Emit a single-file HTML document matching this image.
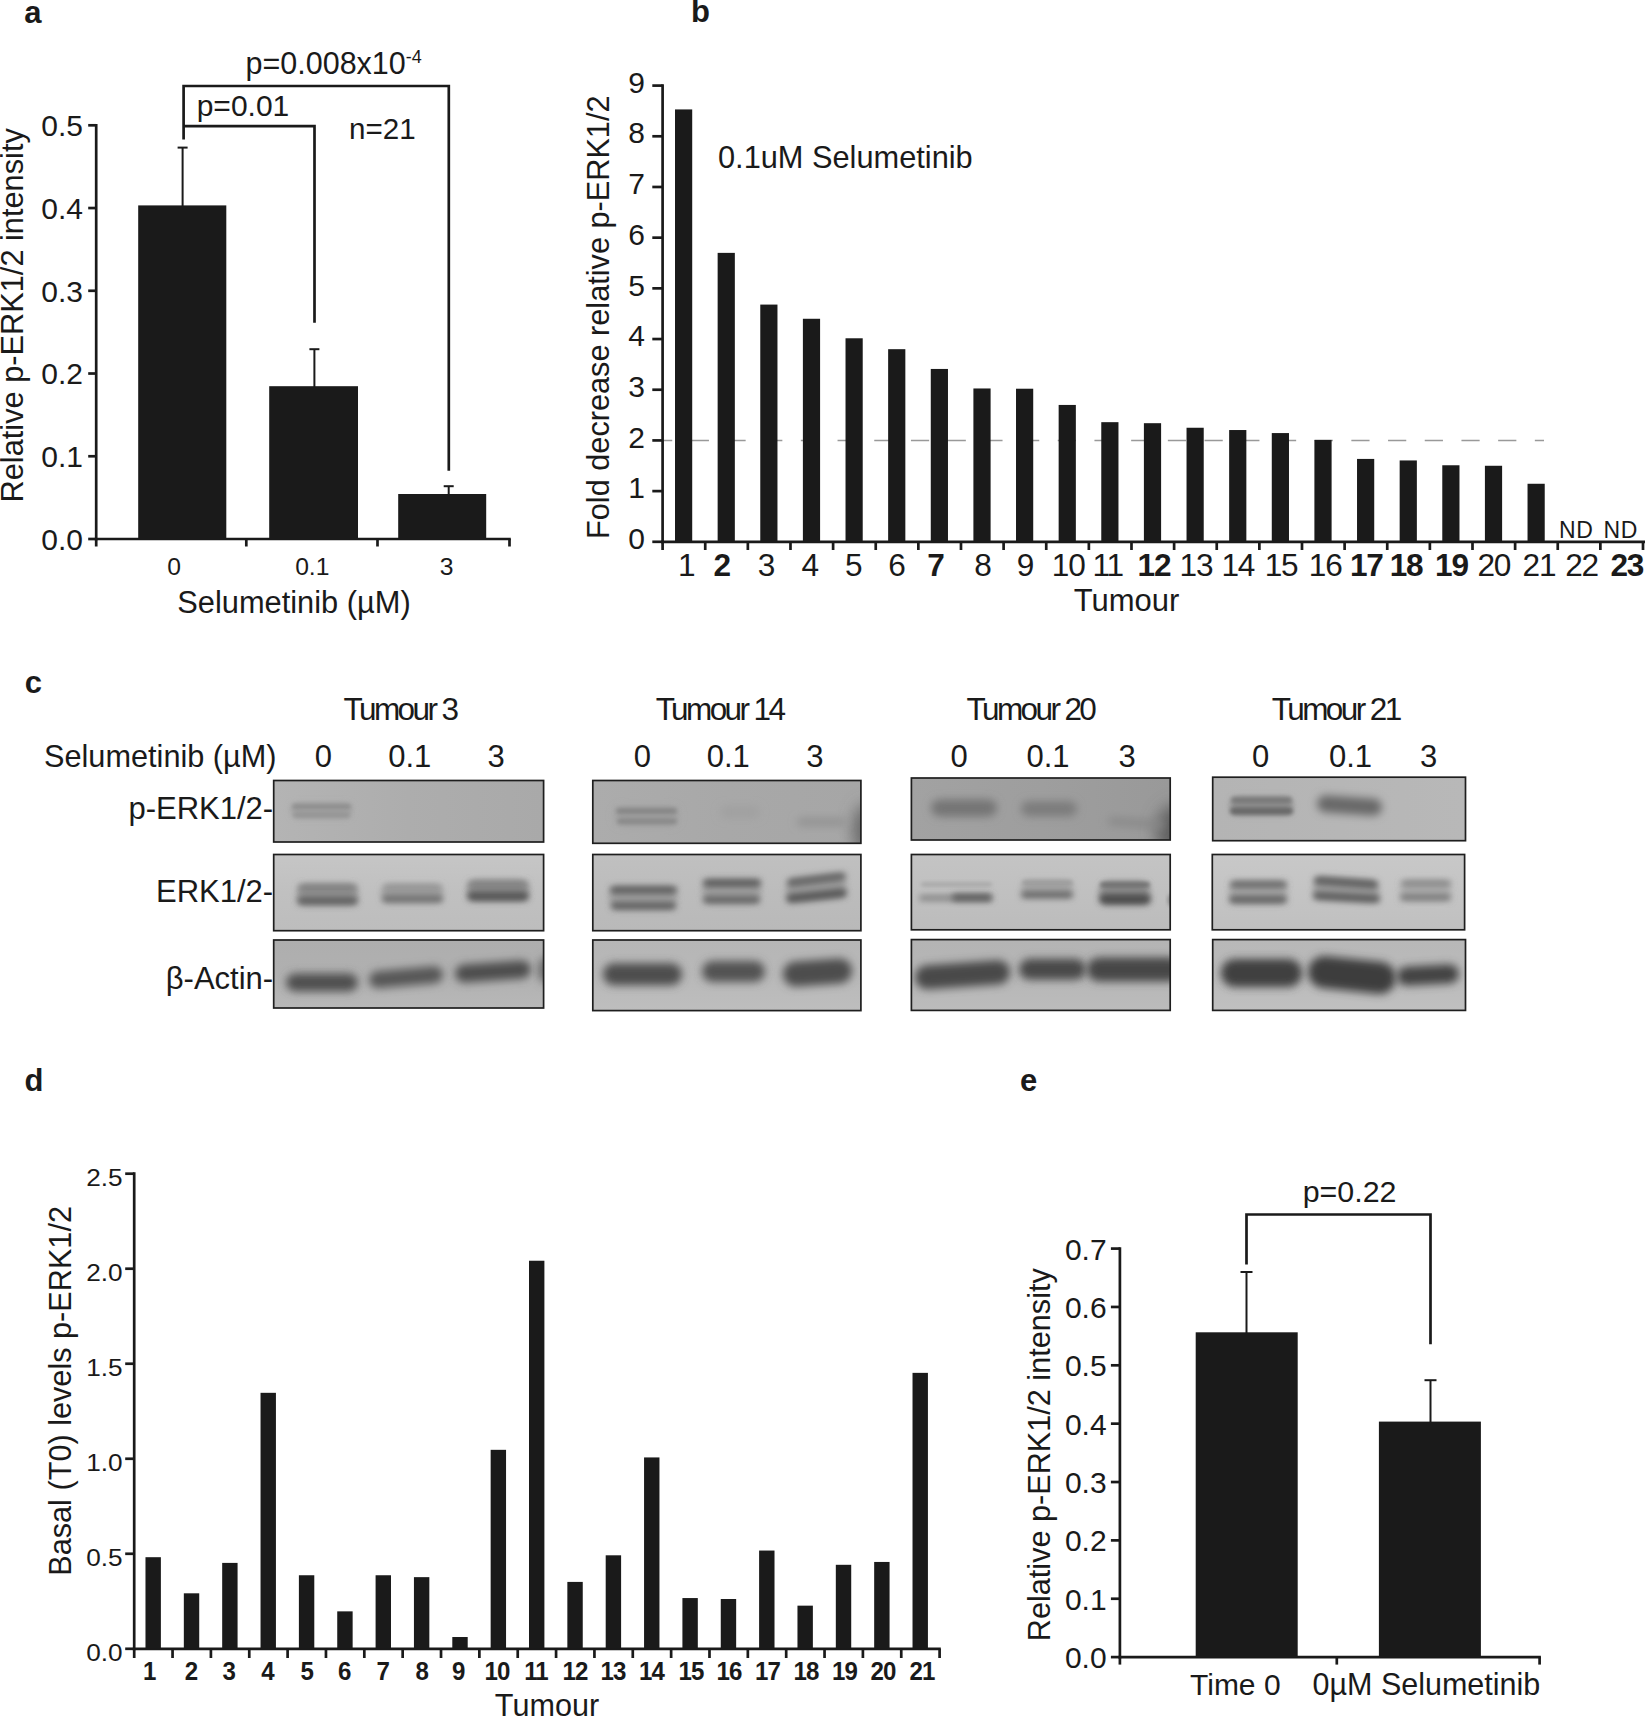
<!DOCTYPE html>
<html lang="en"><head><meta charset="utf-8"><title>Figure</title>
<style>html,body{margin:0;padding:0;background:#fff}body{width:1645px;height:1717px;overflow:hidden}svg{display:block}</style>
</head><body>
<svg width="1645" height="1717" viewBox="0 0 1645 1717" font-family="'Liberation Sans', Arial, Helvetica, sans-serif" fill="#1a1a1a">
<defs>
<filter id="b2" x="-30%" y="-100%" width="160%" height="300%"><feGaussianBlur stdDeviation="2"/></filter>
<filter id="b3" x="-30%" y="-100%" width="160%" height="300%"><feGaussianBlur stdDeviation="3"/></filter>
<filter id="b4" x="-30%" y="-100%" width="160%" height="300%"><feGaussianBlur stdDeviation="4"/></filter>
<filter id="b8" x="-50%" y="-50%" width="200%" height="200%"><feGaussianBlur stdDeviation="8"/></filter>
</defs>
<rect width="1645" height="1717" fill="#fff"/>
<text x="24.3" y="23.0" font-size="31" text-anchor="start" font-weight="bold">a</text>
<line x1="96.2" y1="123.95" x2="96.2" y2="540.35" stroke="#1a1a1a" stroke-width="2.7"/>
<line x1="94.85000000000001" y1="539" x2="510.8" y2="539" stroke="#1a1a1a" stroke-width="2.7"/>
<line x1="88.2" y1="539.0" x2="96.2" y2="539.0" stroke="#1a1a1a" stroke-width="2.7"/>
<text x="83" y="549.8" font-size="30" text-anchor="end">0.0</text>
<line x1="88.2" y1="456.26" x2="96.2" y2="456.26" stroke="#1a1a1a" stroke-width="2.7"/>
<text x="83" y="467.06" font-size="30" text-anchor="end">0.1</text>
<line x1="88.2" y1="373.52" x2="96.2" y2="373.52" stroke="#1a1a1a" stroke-width="2.7"/>
<text x="83" y="384.32" font-size="30" text-anchor="end">0.2</text>
<line x1="88.2" y1="290.78000000000003" x2="96.2" y2="290.78000000000003" stroke="#1a1a1a" stroke-width="2.7"/>
<text x="83" y="301.58000000000004" font-size="30" text-anchor="end">0.3</text>
<line x1="88.2" y1="208.04000000000002" x2="96.2" y2="208.04000000000002" stroke="#1a1a1a" stroke-width="2.7"/>
<text x="83" y="218.84000000000003" font-size="30" text-anchor="end">0.4</text>
<line x1="88.2" y1="125.30000000000001" x2="96.2" y2="125.30000000000001" stroke="#1a1a1a" stroke-width="2.7"/>
<text x="83" y="136.10000000000002" font-size="30" text-anchor="end">0.5</text>
<line x1="246.3" y1="539" x2="246.3" y2="546.5" stroke="#1a1a1a" stroke-width="2.7"/>
<line x1="377.5" y1="539" x2="377.5" y2="546.5" stroke="#1a1a1a" stroke-width="2.7"/>
<line x1="509.5" y1="539" x2="509.5" y2="546.5" stroke="#1a1a1a" stroke-width="2.7"/>
<line x1="96.2" y1="539" x2="96.2" y2="546.5" stroke="#1a1a1a" stroke-width="2.7"/>
<rect x="138.20" y="205.40" width="88.10" height="333.60" fill="#1a1a1a"/>
<rect x="269.20" y="386.20" width="88.80" height="152.80" fill="#1a1a1a"/>
<rect x="398.20" y="494.00" width="88.00" height="45.00" fill="#1a1a1a"/>
<line x1="182.6" y1="147.6" x2="182.6" y2="206" stroke="#1a1a1a" stroke-width="2"/>
<line x1="177.6" y1="147.6" x2="187.6" y2="147.6" stroke="#1a1a1a" stroke-width="2"/>
<line x1="314.4" y1="349.2" x2="314.4" y2="387" stroke="#1a1a1a" stroke-width="2"/>
<line x1="309.4" y1="349.2" x2="319.4" y2="349.2" stroke="#1a1a1a" stroke-width="2"/>
<line x1="448.7" y1="486.2" x2="448.7" y2="495" stroke="#1a1a1a" stroke-width="2"/>
<line x1="443.7" y1="486.2" x2="453.7" y2="486.2" stroke="#1a1a1a" stroke-width="2"/>
<path d="M183.6 139.5 L183.6 86 L448.8 86 L448.8 470.8" stroke="#1a1a1a" stroke-width="2.7" fill="none"/>
<path d="M183.6 126.2 L314.5 126.2 L314.5 322.8" stroke="#1a1a1a" stroke-width="2.7" fill="none"/>
<text x="245.5" y="74" font-size="30.5" text-anchor="start">p=0.008x10<tspan font-size="18" dy="-11">-4</tspan></text>
<text x="196.7" y="115.8" font-size="30" text-anchor="start">p=0.01</text>
<text x="349" y="139.3" font-size="29.6" text-anchor="start">n=21</text>
<text x="174.2" y="575" font-size="24.7" text-anchor="middle">0</text>
<text x="312.3" y="575" font-size="24.7" text-anchor="middle">0.1</text>
<text x="446.7" y="575" font-size="24.7" text-anchor="middle">3</text>
<text x="294" y="613" font-size="30.8" text-anchor="middle">Selumetinib (µM)</text>
<text x="23" y="315.3" font-size="30.75" text-anchor="middle" transform="rotate(-90 23 315.3)">Relative p-ERK1/2 intensity</text>
<text x="691" y="22.3" font-size="31" text-anchor="start" font-weight="bold">b</text>
<line x1="617.35" y1="440.4222222222222" x2="1544" y2="440.4222222222222" stroke="#999" stroke-width="1.5" stroke-dasharray="18.2 18.5"/>
<rect x="600.00" y="437.42" width="62.60" height="6.00" fill="#fff"/>
<rect x="675.01" y="109.42" width="17.20" height="432.38" fill="#1a1a1a"/>
<rect x="717.64" y="252.87" width="17.20" height="288.93" fill="#1a1a1a"/>
<rect x="760.27" y="304.58" width="17.20" height="237.22" fill="#1a1a1a"/>
<rect x="802.89" y="318.77" width="17.20" height="223.03" fill="#1a1a1a"/>
<rect x="845.52" y="338.28" width="17.20" height="203.52" fill="#1a1a1a"/>
<rect x="888.14" y="349.18" width="17.20" height="192.62" fill="#1a1a1a"/>
<rect x="930.77" y="368.95" width="17.20" height="172.85" fill="#1a1a1a"/>
<rect x="973.40" y="388.47" width="17.20" height="153.33" fill="#1a1a1a"/>
<rect x="1016.02" y="388.72" width="17.20" height="153.08" fill="#1a1a1a"/>
<rect x="1058.65" y="404.94" width="17.20" height="136.86" fill="#1a1a1a"/>
<rect x="1101.27" y="422.17" width="17.20" height="119.63" fill="#1a1a1a"/>
<rect x="1143.90" y="423.19" width="17.20" height="118.61" fill="#1a1a1a"/>
<rect x="1186.53" y="427.75" width="17.20" height="114.05" fill="#1a1a1a"/>
<rect x="1229.15" y="430.03" width="17.20" height="111.77" fill="#1a1a1a"/>
<rect x="1271.78" y="433.07" width="17.20" height="108.73" fill="#1a1a1a"/>
<rect x="1314.40" y="439.92" width="17.20" height="101.88" fill="#1a1a1a"/>
<rect x="1357.03" y="458.92" width="17.20" height="82.88" fill="#1a1a1a"/>
<rect x="1399.66" y="460.44" width="17.20" height="81.36" fill="#1a1a1a"/>
<rect x="1442.28" y="465.26" width="17.20" height="76.54" fill="#1a1a1a"/>
<rect x="1484.91" y="465.77" width="17.20" height="76.03" fill="#1a1a1a"/>
<rect x="1527.53" y="483.76" width="17.20" height="58.04" fill="#1a1a1a"/>
<line x1="662.6" y1="84.25" x2="662.6" y2="543.15" stroke="#1a1a1a" stroke-width="2.7"/>
<line x1="661.25" y1="541.8" x2="1645" y2="541.8" stroke="#1a1a1a" stroke-width="2.7"/>
<line x1="652.3000000000001" y1="541.8" x2="662.6" y2="541.8" stroke="#1a1a1a" stroke-width="2.7"/>
<text x="645" y="549.0" font-size="30" text-anchor="end">0</text>
<line x1="652.3000000000001" y1="491.1111111111111" x2="662.6" y2="491.1111111111111" stroke="#1a1a1a" stroke-width="2.7"/>
<text x="645" y="498.3111111111111" font-size="30" text-anchor="end">1</text>
<line x1="652.3000000000001" y1="440.4222222222222" x2="662.6" y2="440.4222222222222" stroke="#1a1a1a" stroke-width="2.7"/>
<text x="645" y="447.6222222222222" font-size="30" text-anchor="end">2</text>
<line x1="652.3000000000001" y1="389.7333333333333" x2="662.6" y2="389.7333333333333" stroke="#1a1a1a" stroke-width="2.7"/>
<text x="645" y="396.9333333333333" font-size="30" text-anchor="end">3</text>
<line x1="652.3000000000001" y1="339.0444444444444" x2="662.6" y2="339.0444444444444" stroke="#1a1a1a" stroke-width="2.7"/>
<text x="645" y="346.2444444444444" font-size="30" text-anchor="end">4</text>
<line x1="652.3000000000001" y1="288.35555555555555" x2="662.6" y2="288.35555555555555" stroke="#1a1a1a" stroke-width="2.7"/>
<text x="645" y="295.55555555555554" font-size="30" text-anchor="end">5</text>
<line x1="652.3000000000001" y1="237.66666666666663" x2="662.6" y2="237.66666666666663" stroke="#1a1a1a" stroke-width="2.7"/>
<text x="645" y="244.86666666666662" font-size="30" text-anchor="end">6</text>
<line x1="652.3000000000001" y1="186.97777777777776" x2="662.6" y2="186.97777777777776" stroke="#1a1a1a" stroke-width="2.7"/>
<text x="645" y="194.17777777777775" font-size="30" text-anchor="end">7</text>
<line x1="652.3000000000001" y1="136.2888888888889" x2="662.6" y2="136.2888888888889" stroke="#1a1a1a" stroke-width="2.7"/>
<text x="645" y="143.48888888888888" font-size="30" text-anchor="end">8</text>
<line x1="652.3000000000001" y1="85.60000000000002" x2="662.6" y2="85.60000000000002" stroke="#1a1a1a" stroke-width="2.7"/>
<text x="645" y="92.80000000000003" font-size="30" text-anchor="end">9</text>
<line x1="662.6" y1="541.8" x2="662.6" y2="550.0" stroke="#1a1a1a" stroke-width="2.7"/>
<line x1="705.2260869565217" y1="541.8" x2="705.2260869565217" y2="550.0" stroke="#1a1a1a" stroke-width="2.7"/>
<line x1="747.8521739130435" y1="541.8" x2="747.8521739130435" y2="550.0" stroke="#1a1a1a" stroke-width="2.7"/>
<line x1="790.4782608695652" y1="541.8" x2="790.4782608695652" y2="550.0" stroke="#1a1a1a" stroke-width="2.7"/>
<line x1="833.104347826087" y1="541.8" x2="833.104347826087" y2="550.0" stroke="#1a1a1a" stroke-width="2.7"/>
<line x1="875.7304347826087" y1="541.8" x2="875.7304347826087" y2="550.0" stroke="#1a1a1a" stroke-width="2.7"/>
<line x1="918.3565217391305" y1="541.8" x2="918.3565217391305" y2="550.0" stroke="#1a1a1a" stroke-width="2.7"/>
<line x1="960.9826086956522" y1="541.8" x2="960.9826086956522" y2="550.0" stroke="#1a1a1a" stroke-width="2.7"/>
<line x1="1003.608695652174" y1="541.8" x2="1003.608695652174" y2="550.0" stroke="#1a1a1a" stroke-width="2.7"/>
<line x1="1046.2347826086957" y1="541.8" x2="1046.2347826086957" y2="550.0" stroke="#1a1a1a" stroke-width="2.7"/>
<line x1="1088.8608695652174" y1="541.8" x2="1088.8608695652174" y2="550.0" stroke="#1a1a1a" stroke-width="2.7"/>
<line x1="1131.486956521739" y1="541.8" x2="1131.486956521739" y2="550.0" stroke="#1a1a1a" stroke-width="2.7"/>
<line x1="1174.1130434782608" y1="541.8" x2="1174.1130434782608" y2="550.0" stroke="#1a1a1a" stroke-width="2.7"/>
<line x1="1216.7391304347825" y1="541.8" x2="1216.7391304347825" y2="550.0" stroke="#1a1a1a" stroke-width="2.7"/>
<line x1="1259.3652173913042" y1="541.8" x2="1259.3652173913042" y2="550.0" stroke="#1a1a1a" stroke-width="2.7"/>
<line x1="1301.9913043478261" y1="541.8" x2="1301.9913043478261" y2="550.0" stroke="#1a1a1a" stroke-width="2.7"/>
<line x1="1344.6173913043478" y1="541.8" x2="1344.6173913043478" y2="550.0" stroke="#1a1a1a" stroke-width="2.7"/>
<line x1="1387.2434782608696" y1="541.8" x2="1387.2434782608696" y2="550.0" stroke="#1a1a1a" stroke-width="2.7"/>
<line x1="1429.8695652173915" y1="541.8" x2="1429.8695652173915" y2="550.0" stroke="#1a1a1a" stroke-width="2.7"/>
<line x1="1472.4956521739132" y1="541.8" x2="1472.4956521739132" y2="550.0" stroke="#1a1a1a" stroke-width="2.7"/>
<line x1="1515.121739130435" y1="541.8" x2="1515.121739130435" y2="550.0" stroke="#1a1a1a" stroke-width="2.7"/>
<line x1="1557.7478260869566" y1="541.8" x2="1557.7478260869566" y2="550.0" stroke="#1a1a1a" stroke-width="2.7"/>
<line x1="1600.3739130434783" y1="541.8" x2="1600.3739130434783" y2="550.0" stroke="#1a1a1a" stroke-width="2.7"/>
<line x1="1643.0" y1="541.8" x2="1643.0" y2="550.0" stroke="#1a1a1a" stroke-width="2.7"/>
<text x="686.9" y="575.6" font-size="31.6" text-anchor="middle">1</text>
<text x="722.4" y="575.6" font-size="31.6" text-anchor="middle" font-weight="bold">2</text>
<text x="766.6" y="575.6" font-size="31.6" text-anchor="middle">3</text>
<text x="810.4" y="575.6" font-size="31.6" text-anchor="middle">4</text>
<text x="853.8" y="575.6" font-size="31.6" text-anchor="middle">5</text>
<text x="897.1" y="575.6" font-size="31.6" text-anchor="middle">6</text>
<text x="936.0" y="575.6" font-size="31.6" text-anchor="middle" font-weight="bold">7</text>
<text x="983" y="575.6" font-size="31.6" text-anchor="middle">8</text>
<text x="1025.5" y="575.6" font-size="31.6" text-anchor="middle">9</text>
<text x="1068.2" y="575.6" font-size="31.6" text-anchor="middle" letter-spacing="-1.2">10</text>
<text x="1107.7" y="575.6" font-size="31.6" text-anchor="middle" letter-spacing="-1.2">11</text>
<text x="1153.9" y="575.6" font-size="31.6" text-anchor="middle" font-weight="bold" letter-spacing="-1.2">12</text>
<text x="1195.9" y="575.6" font-size="31.6" text-anchor="middle" letter-spacing="-1.2">13</text>
<text x="1237.8" y="575.6" font-size="31.6" text-anchor="middle" letter-spacing="-1.2">14</text>
<text x="1281.1" y="575.6" font-size="31.6" text-anchor="middle" letter-spacing="-1.2">15</text>
<text x="1325.2" y="575.6" font-size="31.6" text-anchor="middle" letter-spacing="-1.2">16</text>
<text x="1366.3" y="575.6" font-size="31.6" text-anchor="middle" font-weight="bold" letter-spacing="-1.2">17</text>
<text x="1406.1" y="575.6" font-size="31.6" text-anchor="middle" font-weight="bold" letter-spacing="-1.2">18</text>
<text x="1451.4" y="575.6" font-size="31.6" text-anchor="middle" font-weight="bold" letter-spacing="-1.2">19</text>
<text x="1493.8" y="575.6" font-size="31.6" text-anchor="middle" letter-spacing="-1.2">20</text>
<text x="1538.9" y="575.6" font-size="31.6" text-anchor="middle" letter-spacing="-1.2">21</text>
<text x="1581.5" y="575.6" font-size="31.6" text-anchor="middle" letter-spacing="-1.2">22</text>
<text x="1626.8" y="575.6" font-size="31.6" text-anchor="middle" font-weight="bold" letter-spacing="-1.2">23</text>
<text x="1576.3" y="538" font-size="23" text-anchor="middle" letter-spacing="0.6">ND</text>
<text x="1620.8" y="538" font-size="23" text-anchor="middle" letter-spacing="0.6">ND</text>
<text x="718" y="168" font-size="30.75" text-anchor="start">0.1uM Selumetinib</text>
<text x="1126.5" y="611.2" font-size="31" text-anchor="middle">Tumour</text>
<text x="609.2" y="317.2" font-size="30.7" text-anchor="middle" transform="rotate(-90 609.2 317.2)">Fold decrease relative p-ERK1/2</text>
<text x="24.7" y="693" font-size="31" text-anchor="start" font-weight="bold">c</text>
<text x="44" y="767" font-size="30.7" text-anchor="start">Selumetinib (µM)</text>
<text x="273.2" y="819.3" font-size="31" text-anchor="end">p-ERK1/2-</text>
<text x="273.2" y="902.2" font-size="31" text-anchor="end">ERK1/2-</text>
<text x="273.2" y="989.3" font-size="31" text-anchor="end">β-Actin-</text>
<text x="400" y="719.8" font-size="31.5" text-anchor="middle" letter-spacing="-2.6">Tumour 3</text>
<text x="719.5" y="719.8" font-size="31.5" text-anchor="middle" letter-spacing="-2.6">Tumour 14</text>
<text x="1030.4" y="719.8" font-size="31.5" text-anchor="middle" letter-spacing="-2.6">Tumour 20</text>
<text x="1335.7" y="719.8" font-size="31.5" text-anchor="middle" letter-spacing="-2.6">Tumour 21</text>
<text x="323.3" y="767" font-size="31" text-anchor="middle">0</text>
<text x="409.8" y="767" font-size="31" text-anchor="middle">0.1</text>
<text x="496.2" y="767" font-size="31" text-anchor="middle">3</text>
<text x="642.3" y="767" font-size="31" text-anchor="middle">0</text>
<text x="728.3" y="767" font-size="31" text-anchor="middle">0.1</text>
<text x="814.8" y="767" font-size="31" text-anchor="middle">3</text>
<text x="959" y="767" font-size="31" text-anchor="middle">0</text>
<text x="1048" y="767" font-size="31" text-anchor="middle">0.1</text>
<text x="1127" y="767" font-size="31" text-anchor="middle">3</text>
<text x="1260.5" y="767" font-size="31" text-anchor="middle">0</text>
<text x="1350.5" y="767" font-size="31" text-anchor="middle">0.1</text>
<text x="1428.5" y="767" font-size="31" text-anchor="middle">3</text>
<clipPath id="c11"><rect x="273.7" y="780.5" width="269.9" height="61.5"/></clipPath>
<linearGradient id="g1" x1="0" y1="0" x2="1" y2="0"><stop offset="0.00" stop-color="#b4b4b4"/><stop offset="0.50" stop-color="#adadad"/><stop offset="1.00" stop-color="#a9a9a9"/></linearGradient>
<rect x="273.70" y="780.50" width="269.90" height="61.50" fill="url(#g1)"/>
<g clip-path="url(#c11)">
<rect x="291.0" y="803.0" width="61.0" height="15.0" rx="7.5" fill="#a2a2a2" filter="url(#b3)"/>
<rect x="292.0" y="804.0" width="59.0" height="5.0" rx="2.5" fill="#8c8c8c" filter="url(#b2)"/>
<rect x="293.0" y="812.4" width="57.0" height="5.0" rx="2.5" fill="#939393" filter="url(#b2)"/>
</g>
<rect x="273.7" y="780.5" width="269.9" height="61.5" fill="none" stroke="#1e1e1e" stroke-width="1.7"/>
<clipPath id="c12"><rect x="273.7" y="854.5" width="269.9" height="76.2"/></clipPath>
<linearGradient id="g2" x1="0" y1="0" x2="0" y2="1"><stop offset="0.00" stop-color="#c6c6c6"/><stop offset="0.50" stop-color="#c0c0c0"/><stop offset="1.00" stop-color="#bdbdbd"/></linearGradient>
<rect x="273.70" y="854.50" width="269.90" height="76.20" fill="url(#g2)"/>
<g clip-path="url(#c12)">
<rect x="297.0" y="884.0" width="61.0" height="20.0" rx="10.0" fill="#9a9a9a" filter="url(#b3)"/>
<rect x="298.0" y="884.5" width="59.0" height="7.0" rx="3.5" fill="#7e7e7e" filter="url(#b3)"/>
<rect x="297.0" y="896.4" width="61.0" height="8.5" rx="4.2" fill="#606060" filter="url(#b3)"/>
<rect x="381.0" y="884.0" width="62.0" height="18.0" rx="9.0" fill="#a6a6a6" filter="url(#b3)"/>
<rect x="383.0" y="885.0" width="59.0" height="6.0" rx="3.0" fill="#929292" filter="url(#b3)"/>
<rect x="382.0" y="895.0" width="61.0" height="7.5" rx="3.8" fill="#6e6e6e" filter="url(#b3)"/>
<rect x="467.0" y="880.0" width="62.0" height="20.0" rx="10.0" fill="#969696" filter="url(#b3)"/>
<rect x="468.0" y="881.0" width="60.0" height="7.0" rx="3.5" fill="#808080" filter="url(#b3)"/>
<rect x="467.0" y="891.5" width="62.0" height="9.5" rx="4.8" fill="#555" filter="url(#b3)"/>
</g>
<rect x="273.7" y="854.5" width="269.9" height="76.2" fill="none" stroke="#1e1e1e" stroke-width="1.7"/>
<clipPath id="c13"><rect x="273.7" y="940" width="269.9" height="68.0"/></clipPath>
<linearGradient id="g3" x1="0" y1="0" x2="0" y2="1"><stop offset="0.00" stop-color="#aeaeae"/><stop offset="0.50" stop-color="#b0b0b0"/><stop offset="1.00" stop-color="#b8b8b8"/></linearGradient>
<rect x="273.70" y="940.00" width="269.90" height="68.00" fill="url(#g3)"/>
<g clip-path="url(#c13)">
<ellipse cx="546" cy="970" rx="8" ry="13" fill="#6a6a6a" filter="url(#b4)"/>
<rect x="286.0" y="973.5" width="72.0" height="18.0" rx="9.0" fill="#505050" filter="url(#b4)"/>
<rect x="369.0" y="968.7" width="74.0" height="17.0" rx="8.5" fill="#565656" filter="url(#b4)" transform="rotate(-5 406.0 977.2)"/>
<rect x="455.0" y="962.5" width="76.0" height="18.0" rx="9.0" fill="#4e4e4e" filter="url(#b4)" transform="rotate(-4 493.0 971.5)"/>
</g>
<rect x="273.7" y="940" width="269.9" height="68.0" fill="none" stroke="#1e1e1e" stroke-width="1.7"/>
<clipPath id="c21"><rect x="592.8" y="780.5" width="268.1" height="62.8"/></clipPath>
<linearGradient id="g4" x1="0" y1="0" x2="1" y2="0"><stop offset="0.00" stop-color="#acacac"/><stop offset="0.50" stop-color="#a8a8a8"/><stop offset="1.00" stop-color="#a6a6a6"/></linearGradient>
<rect x="592.80" y="780.50" width="268.10" height="62.80" fill="url(#g4)"/>
<g clip-path="url(#c21)">
<ellipse cx="868" cy="830" rx="15" ry="26" fill="#666" filter="url(#b8)"/>
<rect x="615.0" y="807.0" width="63.0" height="18.0" rx="9.0" fill="#a0a0a0" filter="url(#b4)"/>
<rect x="616.0" y="808.0" width="61.0" height="6.0" rx="3.0" fill="#858585" filter="url(#b2)"/>
<rect x="617.0" y="818.3" width="60.0" height="6.0" rx="3.0" fill="#888" filter="url(#b2)"/>
<rect x="720.0" y="806.0" width="40.0" height="12.0" rx="6.0" fill="#a0a0a0" filter="url(#b4)"/>
<rect x="797.0" y="818.0" width="49.0" height="8.0" rx="4.0" fill="#929292" filter="url(#b4)"/>
</g>
<rect x="592.8" y="780.5" width="268.1" height="62.8" fill="none" stroke="#1e1e1e" stroke-width="1.7"/>
<clipPath id="c22"><rect x="592.8" y="854.5" width="268.1" height="76.2"/></clipPath>
<linearGradient id="g5" x1="0" y1="0" x2="0" y2="1"><stop offset="0.00" stop-color="#c0c0c0"/><stop offset="0.50" stop-color="#bcbcbc"/><stop offset="1.00" stop-color="#b9b9b9"/></linearGradient>
<rect x="592.80" y="854.50" width="268.10" height="76.20" fill="url(#g5)"/>
<g clip-path="url(#c22)">
<rect x="609.0" y="887.0" width="68.0" height="22.0" rx="11.0" fill="#a0a0a0" filter="url(#b3)"/>
<rect x="610.0" y="886.2" width="67.0" height="7.5" rx="3.8" fill="#5c5c5c" filter="url(#b3)"/>
<rect x="611.0" y="902.1" width="65.0" height="7.5" rx="3.8" fill="#5e5e5e" filter="url(#b3)"/>
<rect x="702.0" y="880.5" width="59.0" height="22.0" rx="11.0" fill="#a0a0a0" filter="url(#b3)"/>
<rect x="703.0" y="879.0" width="58.0" height="8.0" rx="4.0" fill="#5c5c5c" filter="url(#b3)"/>
<rect x="703.0" y="896.1" width="57.0" height="7.5" rx="3.8" fill="#646464" filter="url(#b3)"/>
<rect x="786.0" y="877.0" width="60.0" height="22.0" rx="11.0" fill="#9e9e9e" filter="url(#b3)" transform="rotate(-6 816.0 888.0)"/>
<rect x="787.0" y="875.4" width="59.0" height="8.0" rx="4.0" fill="#646464" filter="url(#b3)" transform="rotate(-7 816.5 879.4)"/>
<rect x="786.0" y="891.3" width="61.0" height="9.0" rx="4.5" fill="#565656" filter="url(#b3)" transform="rotate(-6 816.5 895.8)"/>
</g>
<rect x="592.8" y="854.5" width="268.1" height="76.2" fill="none" stroke="#1e1e1e" stroke-width="1.7"/>
<clipPath id="c23"><rect x="592.8" y="940" width="268.1" height="70.6"/></clipPath>
<linearGradient id="g6" x1="0" y1="0" x2="0" y2="1"><stop offset="0.00" stop-color="#b6b6b6"/><stop offset="0.50" stop-color="#b8b8b8"/><stop offset="1.00" stop-color="#bebebe"/></linearGradient>
<rect x="592.80" y="940.00" width="268.10" height="70.60" fill="url(#g6)"/>
<g clip-path="url(#c23)">
<rect x="603.0" y="963.3" width="79.0" height="22.0" rx="11.0" fill="#4e4e4e" filter="url(#b4)"/>
<rect x="702.0" y="961.0" width="63.0" height="21.0" rx="10.5" fill="#525252" filter="url(#b4)"/>
<rect x="783.0" y="959.9" width="69.0" height="25.0" rx="12.5" fill="#4e4e4e" filter="url(#b4)" transform="rotate(-4 817.5 972.4)"/>
</g>
<rect x="592.8" y="940" width="268.1" height="70.6" fill="none" stroke="#1e1e1e" stroke-width="1.7"/>
<clipPath id="c31"><rect x="911.4" y="778" width="258.8" height="62.0"/></clipPath>
<linearGradient id="g7" x1="0" y1="0" x2="1" y2="0"><stop offset="0.00" stop-color="#a2a2a2"/><stop offset="0.50" stop-color="#9e9e9e"/><stop offset="1.00" stop-color="#999"/></linearGradient>
<rect x="911.40" y="778.00" width="258.80" height="62.00" fill="url(#g7)"/>
<g clip-path="url(#c31)">
<ellipse cx="1180" cy="830" rx="24" ry="26" fill="#5e5e5e" filter="url(#b8)"/>
<rect x="931.0" y="799.4" width="66.0" height="17.0" rx="8.5" fill="#747474" filter="url(#b4)"/>
<rect x="1021.0" y="801.3" width="56.0" height="15.0" rx="7.5" fill="#7c7c7c" filter="url(#b4)"/>
<rect x="1108.0" y="819.5" width="57.0" height="7.0" rx="3.5" fill="#878787" filter="url(#b4)" transform="rotate(4 1136.5 823.0)"/>
</g>
<rect x="911.4" y="778" width="258.8" height="62.0" fill="none" stroke="#1e1e1e" stroke-width="1.7"/>
<clipPath id="c32"><rect x="911.4" y="854.5" width="258.8" height="75.3"/></clipPath>
<linearGradient id="g8" x1="0" y1="0" x2="0" y2="1"><stop offset="0.00" stop-color="#c4c4c4"/><stop offset="0.50" stop-color="#c0c0c0"/><stop offset="1.00" stop-color="#bcbcbc"/></linearGradient>
<rect x="911.40" y="854.50" width="258.80" height="75.30" fill="url(#g8)"/>
<g clip-path="url(#c32)">
<ellipse cx="1172" cy="900" rx="4" ry="6" fill="#808080" filter="url(#b2)"/>
<rect x="921.0" y="882.8" width="71.0" height="3.5" rx="1.8" fill="#a0a0a0" filter="url(#b2)"/>
<rect x="919.0" y="895.2" width="73.0" height="5.5" rx="2.8" fill="#808080" filter="url(#b3)"/>
<rect x="952.0" y="894.0" width="40.0" height="7.0" rx="3.5" fill="#5c5c5c" filter="url(#b3)"/>
<rect x="1021.0" y="880.0" width="52.0" height="16.0" rx="8.0" fill="#a8a8a8" filter="url(#b3)"/>
<rect x="1022.0" y="880.5" width="51.0" height="4.5" rx="2.2" fill="#999" filter="url(#b2)"/>
<rect x="1021.0" y="891.2" width="52.0" height="7.0" rx="3.5" fill="#666" filter="url(#b3)"/>
<rect x="1099.0" y="881.0" width="51.0" height="22.0" rx="11.0" fill="#909090" filter="url(#b3)"/>
<rect x="1100.0" y="882.0" width="50.0" height="5.5" rx="2.8" fill="#6e6e6e" filter="url(#b2)"/>
<rect x="1099.0" y="893.7" width="52.0" height="11.0" rx="5.5" fill="#4e4e4e" filter="url(#b3)"/>
</g>
<rect x="911.4" y="854.5" width="258.8" height="75.3" fill="none" stroke="#1e1e1e" stroke-width="1.7"/>
<clipPath id="c33"><rect x="911.4" y="939.6" width="258.8" height="70.8"/></clipPath>
<linearGradient id="g9" x1="0" y1="0" x2="0" y2="1"><stop offset="0.00" stop-color="#b4b4b4"/><stop offset="0.50" stop-color="#b6b6b6"/><stop offset="1.00" stop-color="#bcbcbc"/></linearGradient>
<rect x="911.40" y="939.60" width="258.80" height="70.80" fill="url(#g9)"/>
<g clip-path="url(#c33)">
<rect x="915.0" y="962.7" width="95.0" height="24.0" rx="12.0" fill="#484848" filter="url(#b4)" transform="rotate(-4 962.5 974.7)"/>
<rect x="1019.0" y="958.8" width="67.0" height="21.0" rx="10.5" fill="#4a4a4a" filter="url(#b4)"/>
<rect x="1087.0" y="957.6" width="95.0" height="24.0" rx="12.0" fill="#464646" filter="url(#b4)"/>
</g>
<rect x="911.4" y="939.6" width="258.8" height="70.8" fill="none" stroke="#1e1e1e" stroke-width="1.7"/>
<clipPath id="c41"><rect x="1212.7" y="777.2" width="252.8" height="63.5"/></clipPath>
<linearGradient id="g10" x1="0" y1="0" x2="1" y2="0"><stop offset="0.00" stop-color="#b4b4b4"/><stop offset="0.50" stop-color="#b6b6b6"/><stop offset="1.00" stop-color="#b8b8b8"/></linearGradient>
<rect x="1212.70" y="777.20" width="252.80" height="63.50" fill="url(#g10)"/>
<g clip-path="url(#c41)">
<rect x="1230.0" y="797.0" width="63.0" height="18.0" rx="9.0" fill="#949494" filter="url(#b3)"/>
<rect x="1231.0" y="797.1" width="61.0" height="6.5" rx="3.2" fill="#787878" filter="url(#b2)"/>
<rect x="1230.0" y="807.2" width="63.0" height="7.5" rx="3.8" fill="#686868" filter="url(#b2)"/>
<rect x="1317.0" y="797.0" width="65.0" height="17.0" rx="8.5" fill="#686868" filter="url(#b4)" transform="rotate(4 1349.5 805.5)"/>
</g>
<rect x="1212.7" y="777.2" width="252.8" height="63.5" fill="none" stroke="#1e1e1e" stroke-width="1.7"/>
<clipPath id="c42"><rect x="1212.3" y="854.5" width="252.3" height="75.3"/></clipPath>
<linearGradient id="g11" x1="0" y1="0" x2="0" y2="1"><stop offset="0.00" stop-color="#c8c8c8"/><stop offset="0.50" stop-color="#c4c4c4"/><stop offset="1.00" stop-color="#c0c0c0"/></linearGradient>
<rect x="1212.30" y="854.50" width="252.30" height="75.30" fill="url(#g11)"/>
<g clip-path="url(#c42)">
<rect x="1229.0" y="881.0" width="58.0" height="22.0" rx="11.0" fill="#a8a8a8" filter="url(#b3)"/>
<rect x="1230.0" y="881.0" width="57.0" height="7.0" rx="3.5" fill="#686868" filter="url(#b3)"/>
<rect x="1229.0" y="895.4" width="58.0" height="8.0" rx="4.0" fill="#646464" filter="url(#b3)"/>
<rect x="1313.0" y="879.0" width="66.0" height="22.0" rx="11.0" fill="#a0a0a0" filter="url(#b3)" transform="rotate(4 1346.0 890.0)"/>
<rect x="1314.0" y="878.5" width="64.0" height="8.0" rx="4.0" fill="#5c5c5c" filter="url(#b3)" transform="rotate(4 1346.0 882.5)"/>
<rect x="1313.0" y="893.2" width="67.0" height="8.0" rx="4.0" fill="#5c5c5c" filter="url(#b3)" transform="rotate(3 1346.5 897.2)"/>
<rect x="1400.0" y="880.5" width="51.0" height="20.0" rx="10.0" fill="#b0b0b0" filter="url(#b3)"/>
<rect x="1401.0" y="880.5" width="50.0" height="6.0" rx="3.0" fill="#838383" filter="url(#b3)"/>
<rect x="1400.0" y="893.7" width="51.0" height="7.0" rx="3.5" fill="#7a7a7a" filter="url(#b3)"/>
</g>
<rect x="1212.3" y="854.5" width="252.3" height="75.3" fill="none" stroke="#1e1e1e" stroke-width="1.7"/>
<clipPath id="c43"><rect x="1212.7" y="939.6" width="252.8" height="70.8"/></clipPath>
<linearGradient id="g12" x1="0" y1="0" x2="0" y2="1"><stop offset="0.00" stop-color="#b8b8b8"/><stop offset="0.50" stop-color="#bababa"/><stop offset="1.00" stop-color="#c0c0c0"/></linearGradient>
<rect x="1212.70" y="939.60" width="252.80" height="70.80" fill="url(#g12)"/>
<g clip-path="url(#c43)">
<rect x="1221.0" y="959.0" width="81.0" height="28.0" rx="14.0" fill="#404040" filter="url(#b4)"/>
<rect x="1308.0" y="959.0" width="88.0" height="32.0" rx="16.0" fill="#3e3e3e" filter="url(#b4)" transform="rotate(6 1352.0 975.0)"/>
<rect x="1397.0" y="965.5" width="62.0" height="19.0" rx="9.5" fill="#424242" filter="url(#b4)" transform="rotate(-3 1428.0 975.0)"/>
</g>
<rect x="1212.7" y="939.6" width="252.8" height="70.8" fill="none" stroke="#1e1e1e" stroke-width="1.7"/>
<text x="24.5" y="1090.8" font-size="31" text-anchor="start" font-weight="bold">d</text>
<line x1="134.2" y1="1172.3500000000001" x2="134.2" y2="1650.1499999999999" stroke="#1a1a1a" stroke-width="2.7"/>
<line x1="132.85" y1="1648.8" x2="940.8" y2="1648.8" stroke="#1a1a1a" stroke-width="2.7"/>
<line x1="125.19999999999999" y1="1648.8" x2="134.2" y2="1648.8" stroke="#1a1a1a" stroke-width="2.7"/>
<text transform="translate(122.6 1660.6) scale(1.1 1)" font-size="23.8" text-anchor="end">0.0</text>
<line x1="125.19999999999999" y1="1553.78" x2="134.2" y2="1553.78" stroke="#1a1a1a" stroke-width="2.7"/>
<text transform="translate(122.6 1565.6) scale(1.1 1)" font-size="23.8" text-anchor="end">0.5</text>
<line x1="125.19999999999999" y1="1458.76" x2="134.2" y2="1458.76" stroke="#1a1a1a" stroke-width="2.7"/>
<text transform="translate(122.6 1470.6) scale(1.1 1)" font-size="23.8" text-anchor="end">1.0</text>
<line x1="125.19999999999999" y1="1363.74" x2="134.2" y2="1363.74" stroke="#1a1a1a" stroke-width="2.7"/>
<text transform="translate(122.6 1375.5) scale(1.1 1)" font-size="23.8" text-anchor="end">1.5</text>
<line x1="125.19999999999999" y1="1268.72" x2="134.2" y2="1268.72" stroke="#1a1a1a" stroke-width="2.7"/>
<text transform="translate(122.6 1280.5) scale(1.1 1)" font-size="23.8" text-anchor="end">2.0</text>
<line x1="125.19999999999999" y1="1173.7" x2="134.2" y2="1173.7" stroke="#1a1a1a" stroke-width="2.7"/>
<text transform="translate(122.6 1185.5) scale(1.1 1)" font-size="23.8" text-anchor="end">2.5</text>
<line x1="134.2" y1="1648.8" x2="134.2" y2="1658.0" stroke="#1a1a1a" stroke-width="2.7"/>
<line x1="172.55238095238093" y1="1648.8" x2="172.55238095238093" y2="1658.0" stroke="#1a1a1a" stroke-width="2.7"/>
<line x1="210.9047619047619" y1="1648.8" x2="210.9047619047619" y2="1658.0" stroke="#1a1a1a" stroke-width="2.7"/>
<line x1="249.25714285714287" y1="1648.8" x2="249.25714285714287" y2="1658.0" stroke="#1a1a1a" stroke-width="2.7"/>
<line x1="287.6095238095238" y1="1648.8" x2="287.6095238095238" y2="1658.0" stroke="#1a1a1a" stroke-width="2.7"/>
<line x1="325.96190476190475" y1="1648.8" x2="325.96190476190475" y2="1658.0" stroke="#1a1a1a" stroke-width="2.7"/>
<line x1="364.3142857142857" y1="1648.8" x2="364.3142857142857" y2="1658.0" stroke="#1a1a1a" stroke-width="2.7"/>
<line x1="402.6666666666667" y1="1648.8" x2="402.6666666666667" y2="1658.0" stroke="#1a1a1a" stroke-width="2.7"/>
<line x1="441.0190476190476" y1="1648.8" x2="441.0190476190476" y2="1658.0" stroke="#1a1a1a" stroke-width="2.7"/>
<line x1="479.37142857142857" y1="1648.8" x2="479.37142857142857" y2="1658.0" stroke="#1a1a1a" stroke-width="2.7"/>
<line x1="517.7238095238095" y1="1648.8" x2="517.7238095238095" y2="1658.0" stroke="#1a1a1a" stroke-width="2.7"/>
<line x1="556.0761904761905" y1="1648.8" x2="556.0761904761905" y2="1658.0" stroke="#1a1a1a" stroke-width="2.7"/>
<line x1="594.4285714285714" y1="1648.8" x2="594.4285714285714" y2="1658.0" stroke="#1a1a1a" stroke-width="2.7"/>
<line x1="632.7809523809524" y1="1648.8" x2="632.7809523809524" y2="1658.0" stroke="#1a1a1a" stroke-width="2.7"/>
<line x1="671.1333333333334" y1="1648.8" x2="671.1333333333334" y2="1658.0" stroke="#1a1a1a" stroke-width="2.7"/>
<line x1="709.4857142857143" y1="1648.8" x2="709.4857142857143" y2="1658.0" stroke="#1a1a1a" stroke-width="2.7"/>
<line x1="747.8380952380953" y1="1648.8" x2="747.8380952380953" y2="1658.0" stroke="#1a1a1a" stroke-width="2.7"/>
<line x1="786.1904761904761" y1="1648.8" x2="786.1904761904761" y2="1658.0" stroke="#1a1a1a" stroke-width="2.7"/>
<line x1="824.5428571428572" y1="1648.8" x2="824.5428571428572" y2="1658.0" stroke="#1a1a1a" stroke-width="2.7"/>
<line x1="862.895238095238" y1="1648.8" x2="862.895238095238" y2="1658.0" stroke="#1a1a1a" stroke-width="2.7"/>
<line x1="901.2476190476191" y1="1648.8" x2="901.2476190476191" y2="1658.0" stroke="#1a1a1a" stroke-width="2.7"/>
<line x1="939.6000000000001" y1="1648.8" x2="939.6000000000001" y2="1658.0" stroke="#1a1a1a" stroke-width="2.7"/>
<rect x="145.48" y="1557.20" width="15.40" height="91.60" fill="#1a1a1a"/>
<text transform="translate(149.7 1679.8) scale(0.92 1)" font-size="26.2" text-anchor="middle" font-weight="bold">1</text>
<rect x="183.83" y="1593.31" width="15.40" height="55.49" fill="#1a1a1a"/>
<text transform="translate(191.4 1679.8) scale(0.92 1)" font-size="26.2" text-anchor="middle" font-weight="bold">2</text>
<rect x="222.18" y="1562.90" width="15.40" height="85.90" fill="#1a1a1a"/>
<text transform="translate(229.1 1679.8) scale(0.92 1)" font-size="26.2" text-anchor="middle" font-weight="bold">3</text>
<rect x="260.53" y="1392.82" width="15.40" height="255.98" fill="#1a1a1a"/>
<text transform="translate(267.9 1679.8) scale(0.92 1)" font-size="26.2" text-anchor="middle" font-weight="bold">4</text>
<rect x="298.89" y="1575.25" width="15.40" height="73.55" fill="#1a1a1a"/>
<text transform="translate(307.3 1679.8) scale(0.92 1)" font-size="26.2" text-anchor="middle" font-weight="bold">5</text>
<rect x="337.24" y="1611.36" width="15.40" height="37.44" fill="#1a1a1a"/>
<text transform="translate(344.6 1679.8) scale(0.92 1)" font-size="26.2" text-anchor="middle" font-weight="bold">6</text>
<rect x="375.59" y="1575.25" width="15.40" height="73.55" fill="#1a1a1a"/>
<text transform="translate(383.1 1679.8) scale(0.92 1)" font-size="26.2" text-anchor="middle" font-weight="bold">7</text>
<rect x="413.94" y="1577.15" width="15.40" height="71.65" fill="#1a1a1a"/>
<text transform="translate(422.2 1679.8) scale(0.92 1)" font-size="26.2" text-anchor="middle" font-weight="bold">8</text>
<rect x="452.30" y="1637.02" width="15.40" height="11.78" fill="#1a1a1a"/>
<text transform="translate(458.7 1679.8) scale(0.92 1)" font-size="26.2" text-anchor="middle" font-weight="bold">9</text>
<rect x="490.65" y="1449.83" width="15.40" height="198.97" fill="#1a1a1a"/>
<text transform="translate(497.1 1679.8) scale(0.92 1)" font-size="26.2" text-anchor="middle" font-weight="bold" letter-spacing="-1">10</text>
<rect x="529.00" y="1260.74" width="15.40" height="388.06" fill="#1a1a1a"/>
<text transform="translate(536 1679.8) scale(0.92 1)" font-size="26.2" text-anchor="middle" font-weight="bold" letter-spacing="-1">11</text>
<rect x="567.35" y="1581.91" width="15.40" height="66.89" fill="#1a1a1a"/>
<text transform="translate(574.9 1679.8) scale(0.92 1)" font-size="26.2" text-anchor="middle" font-weight="bold" letter-spacing="-1">12</text>
<rect x="605.70" y="1555.30" width="15.40" height="93.50" fill="#1a1a1a"/>
<text transform="translate(612.9 1679.8) scale(0.92 1)" font-size="26.2" text-anchor="middle" font-weight="bold" letter-spacing="-1">13</text>
<rect x="644.06" y="1457.43" width="15.40" height="191.37" fill="#1a1a1a"/>
<text transform="translate(651.5 1679.8) scale(0.92 1)" font-size="26.2" text-anchor="middle" font-weight="bold" letter-spacing="-1">14</text>
<rect x="682.41" y="1598.06" width="15.40" height="50.74" fill="#1a1a1a"/>
<text transform="translate(691 1679.8) scale(0.92 1)" font-size="26.2" text-anchor="middle" font-weight="bold" letter-spacing="-1">15</text>
<rect x="720.76" y="1599.01" width="15.40" height="49.79" fill="#1a1a1a"/>
<text transform="translate(729 1679.8) scale(0.92 1)" font-size="26.2" text-anchor="middle" font-weight="bold" letter-spacing="-1">16</text>
<rect x="759.11" y="1550.55" width="15.40" height="98.25" fill="#1a1a1a"/>
<text transform="translate(767.6 1679.8) scale(0.92 1)" font-size="26.2" text-anchor="middle" font-weight="bold" letter-spacing="-1">17</text>
<rect x="797.47" y="1605.66" width="15.40" height="43.14" fill="#1a1a1a"/>
<text transform="translate(805.9 1679.8) scale(0.92 1)" font-size="26.2" text-anchor="middle" font-weight="bold" letter-spacing="-1">18</text>
<rect x="835.82" y="1564.80" width="15.40" height="84.00" fill="#1a1a1a"/>
<text transform="translate(844.5 1679.8) scale(0.92 1)" font-size="26.2" text-anchor="middle" font-weight="bold" letter-spacing="-1">19</text>
<rect x="874.17" y="1561.95" width="15.40" height="86.85" fill="#1a1a1a"/>
<text transform="translate(883.1 1679.8) scale(0.92 1)" font-size="26.2" text-anchor="middle" font-weight="bold" letter-spacing="-1">20</text>
<rect x="912.52" y="1372.86" width="15.40" height="275.94" fill="#1a1a1a"/>
<text transform="translate(922 1679.8) scale(0.92 1)" font-size="26.2" text-anchor="middle" font-weight="bold" letter-spacing="-1">21</text>
<text x="547" y="1716" font-size="30.6" text-anchor="middle">Tumour</text>
<text x="71.2" y="1390.9" font-size="30.67" text-anchor="middle" transform="rotate(-90 71.2 1390.9)">Basal (T0) levels p-ERK1/2</text>
<text x="1020" y="1091" font-size="31" text-anchor="start" font-weight="bold">e</text>
<line x1="1119.9" y1="1247.25" x2="1119.9" y2="1658.4499999999998" stroke="#1a1a1a" stroke-width="2.7"/>
<line x1="1118.5500000000002" y1="1657.1" x2="1540.9" y2="1657.1" stroke="#1a1a1a" stroke-width="2.7"/>
<line x1="1110.9" y1="1657.1" x2="1119.9" y2="1657.1" stroke="#1a1a1a" stroke-width="2.7"/>
<text x="1106.6" y="1668.1" font-size="30" text-anchor="end">0.0</text>
<line x1="1110.9" y1="1598.742857142857" x2="1119.9" y2="1598.742857142857" stroke="#1a1a1a" stroke-width="2.7"/>
<text x="1106.6" y="1609.742857142857" font-size="30" text-anchor="end">0.1</text>
<line x1="1110.9" y1="1540.3857142857141" x2="1119.9" y2="1540.3857142857141" stroke="#1a1a1a" stroke-width="2.7"/>
<text x="1106.6" y="1551.3857142857141" font-size="30" text-anchor="end">0.2</text>
<line x1="1110.9" y1="1482.0285714285712" x2="1119.9" y2="1482.0285714285712" stroke="#1a1a1a" stroke-width="2.7"/>
<text x="1106.6" y="1493.0285714285712" font-size="30" text-anchor="end">0.3</text>
<line x1="1110.9" y1="1423.6714285714286" x2="1119.9" y2="1423.6714285714286" stroke="#1a1a1a" stroke-width="2.7"/>
<text x="1106.6" y="1434.6714285714286" font-size="30" text-anchor="end">0.4</text>
<line x1="1110.9" y1="1365.3142857142857" x2="1119.9" y2="1365.3142857142857" stroke="#1a1a1a" stroke-width="2.7"/>
<text x="1106.6" y="1376.3142857142857" font-size="30" text-anchor="end">0.5</text>
<line x1="1110.9" y1="1306.9571428571428" x2="1119.9" y2="1306.9571428571428" stroke="#1a1a1a" stroke-width="2.7"/>
<text x="1106.6" y="1317.9571428571428" font-size="30" text-anchor="end">0.6</text>
<line x1="1110.9" y1="1248.6" x2="1119.9" y2="1248.6" stroke="#1a1a1a" stroke-width="2.7"/>
<text x="1106.6" y="1259.6" font-size="30" text-anchor="end">0.7</text>
<line x1="1336.8" y1="1657.1" x2="1336.8" y2="1664.6" stroke="#1a1a1a" stroke-width="2.7"/>
<line x1="1539.6" y1="1657.1" x2="1539.6" y2="1664.6" stroke="#1a1a1a" stroke-width="2.7"/>
<line x1="1119.9" y1="1657.1" x2="1119.9" y2="1664.6" stroke="#1a1a1a" stroke-width="2.7"/>
<rect x="1195.70" y="1332.30" width="102.00" height="324.80" fill="#1a1a1a"/>
<rect x="1378.90" y="1421.60" width="102.00" height="235.50" fill="#1a1a1a"/>
<line x1="1246.5" y1="1272" x2="1246.5" y2="1333" stroke="#1a1a1a" stroke-width="2"/>
<line x1="1240.5" y1="1272" x2="1252.5" y2="1272" stroke="#1a1a1a" stroke-width="2"/>
<line x1="1430.5" y1="1380.2" x2="1430.5" y2="1422.5" stroke="#1a1a1a" stroke-width="2"/>
<line x1="1424.5" y1="1380.2" x2="1436.5" y2="1380.2" stroke="#1a1a1a" stroke-width="2"/>
<path d="M1246.5 1264.4 L1246.5 1214.5 L1430.5 1214.5 L1430.5 1344.3" stroke="#1a1a1a" stroke-width="2.7" fill="none"/>
<text x="1302.7" y="1201.5" font-size="30.4" text-anchor="start">p=0.22</text>
<text x="1190" y="1694.6" font-size="30" text-anchor="start">Time 0</text>
<text x="1312.5" y="1694.6" font-size="30.5" text-anchor="start">0µM Selumetinib</text>
<text x="1050.5" y="1454.7" font-size="30.65" text-anchor="middle" transform="rotate(-90 1050.5 1454.7)">Relative p-ERK1/2 intensity</text>
</svg>
</body></html>
